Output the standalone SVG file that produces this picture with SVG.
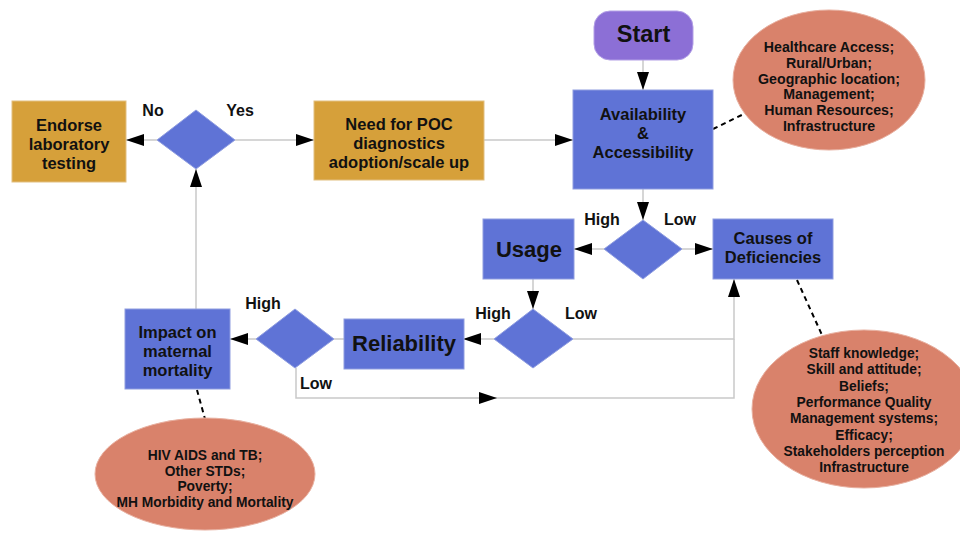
<svg xmlns="http://www.w3.org/2000/svg" width="960" height="540" viewBox="0 0 960 540">
<defs>
<marker id="ah" markerWidth="18" markerHeight="12" refX="18" refY="6" orient="auto" markerUnits="userSpaceOnUse">
<path d="M0,0 L18,6 L0,12 Z" fill="#000"/>
</marker>
<style>
text{font-family:"Liberation Sans",Arial,sans-serif;font-weight:bold;fill:#111;text-anchor:middle}
.blue{fill:#5f73d6;stroke:#8f9de0;stroke-width:1}
.gold{fill:#d6a03a;stroke:#e2bf80;stroke-width:1}
.ell{fill:#d9826b;stroke:#e8b0a0;stroke-width:1}
.c{fill:none;stroke:#c9c9c9;stroke-width:1.5}
.d{fill:none;stroke:#000;stroke-width:2;stroke-dasharray:5,4}
.t15{font-size:16.5px}
.t12{font-size:14.2px}
.t13{font-size:13.8px}
.t20{font-size:22px}
.lab{font-size:16px}
</style>
</defs>
<rect width="960" height="540" fill="#fff"/>

<g id="connectors">
<path class="c" d="M643,60 V90" marker-end="url(#ah)"/>
<path class="c" d="M157,140 H126" marker-end="url(#ah)"/>
<path class="c" d="M235,140 H314" marker-end="url(#ah)"/>
<path class="c" d="M484,140 H573" marker-end="url(#ah)"/>
<path class="c" d="M643,189 V220" marker-end="url(#ah)"/>
<path class="c" d="M604,249 H574" marker-end="url(#ah)"/>
<path class="c" d="M682,249 H713" marker-end="url(#ah)"/>
<path class="c" d="M533,279 V309" marker-end="url(#ah)"/>
<path class="c" d="M494,339 H463" marker-end="url(#ah)"/>
<path class="c" d="M573,339 H734 V279" marker-end="url(#ah)"/>
<path class="c" d="M296,368 V398 H734 V339"/>
<path class="c" d="M400,398 H497" marker-end="url(#ah)"/>
<path class="c" d="M344,339 H334"/>
<path class="c" d="M256,339 H230" marker-end="url(#ah)"/>
<path class="c" d="M196,309 V169" marker-end="url(#ah)"/>
<path class="d" d="M713,129 L748,112"/>
<path class="d" d="M797,280 L822,335"/>
<path class="d" d="M197,390 L205,419"/>
</g>

<g id="start">
<rect x="594" y="11" width="99" height="49" rx="16" fill="#8c6fd6" stroke="#b3a0e6"/>
<text x="643.5" y="42" class="t20" style="font-size:23.5px">Start</text>
</g>

<g id="availability">
<rect class="blue" x="573" y="90" width="140" height="99"/>
<text x="643" y="120" class="t15">Availability</text>
<text x="643" y="139" class="t15">&amp;</text>
<text x="643" y="158" class="t15">Accessibility</text>
</g>

<g id="access-factors">
<ellipse class="ell" cx="829" cy="80" rx="96" ry="70"/>
<text class="t12" x="829" y="52">Healthcare Access;</text>
<text class="t12" x="829" y="68">Rural/Urban;</text>
<text class="t12" x="829" y="83.5">Geographic location;</text>
<text class="t12" x="829" y="99">Management;</text>
<text class="t12" x="829" y="115">Human Resources;</text>
<text class="t12" x="829" y="130.5">Infrastructure</text>
</g>

<g id="endorse">
<rect class="gold" x="12" y="101" width="114" height="81"/>
<text class="t15" x="69" y="131">Endorse</text>
<text class="t15" x="69" y="150">laboratory</text>
<text class="t15" x="69" y="169">testing</text>
</g>

<g id="decision-poc">
<polygon class="blue" points="196,110 235,140 196,169 157,140" stroke="none"/>
<text class="lab" x="153" y="116">No</text>
<text class="lab" x="240" y="116">Yes</text>
</g>

<g id="need-poc">
<rect class="gold" x="314" y="101" width="170" height="79"/>
<text class="t15" x="399" y="130">Need for POC</text>
<text class="t15" x="399" y="149">diagnostics</text>
<text class="t15" x="399" y="168">adoption/scale up</text>
</g>

<g id="decision-availability">
<polygon class="blue" points="643,220 682,249 643,279 604,249" stroke="none"/>
<text class="lab" x="602" y="225">High</text>
<text class="lab" x="680" y="225">Low</text>
</g>

<g id="usage">
<rect class="blue" x="483" y="219" width="91" height="60"/>
<text class="t20" x="529" y="257">Usage</text>
</g>

<g id="causes">
<rect class="blue" x="713" y="219" width="120" height="60"/>
<text class="t15" x="773" y="244">Causes of</text>
<text class="t15" x="773" y="263">Deficiencies</text>
</g>

<g id="deficiency-factors">
<ellipse class="ell" cx="864" cy="409" rx="112" ry="79"/>
<text class="t13" x="864" y="358">Staff knowledge;</text>
<text class="t13" x="864" y="374">Skill and attitude;</text>
<text class="t13" x="864" y="390.5">Beliefs;</text>
<text class="t13" x="864" y="407">Performance Quality</text>
<text class="t13" x="864" y="423">Management systems;</text>
<text class="t13" x="864" y="439.5">Efficacy;</text>
<text class="t13" x="864" y="456">Stakeholders perception</text>
<text class="t13" x="864" y="472">Infrastructure</text>
</g>

<g id="decision-usage">
<polygon class="blue" points="533,309 573,339 533,368 494,339" stroke="none"/>
<text class="lab" x="493" y="319">High</text>
<text class="lab" x="581" y="319">Low</text>
</g>

<g id="reliability">
<rect class="blue" x="344" y="319" width="120" height="50"/>
<text class="t20" x="404" y="351">Reliability</text>
</g>

<g id="decision-reliability">
<polygon class="blue" points="295,309 334,339 295,368 256,339" stroke="none"/>
<text class="lab" x="263" y="309">High</text>
<text class="lab" x="316" y="389">Low</text>
</g>

<g id="impact">
<rect class="blue" x="125" y="309" width="105" height="80"/>
<text class="t15" x="177.5" y="338">Impact on</text>
<text class="t15" x="177.5" y="357">maternal</text>
<text class="t15" x="177.5" y="376">mortality</text>
</g>

<g id="impact-factors">
<ellipse class="ell" cx="205" cy="474" rx="110" ry="56"/>
<text class="t13" x="205" y="460">HIV AIDS and TB;</text>
<text class="t13" x="205" y="475.5">Other STDs;</text>
<text class="t13" x="205" y="491">Poverty;</text>
<text class="t13" x="205" y="507">MH Morbidity and Mortality</text>
</g>
</svg>
